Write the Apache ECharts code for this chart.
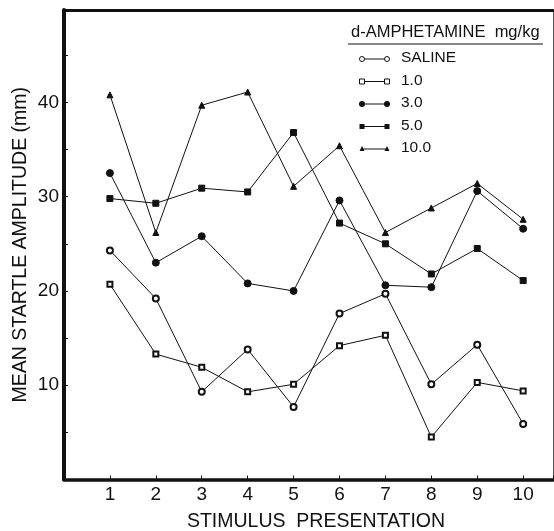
<!DOCTYPE html>
<html>
<head>
<meta charset="utf-8">
<script src="https://cdn.jsdelivr.net/npm/echarts@6/dist/echarts.min.js"></script>
<style>
html,body{margin:0;padding:0;background:#fff;}
#chart{width:554px;height:531px;}
</style>
</head>
<body>
<div id="chart"></div>
<script>
// Data
const stimulus = [1, 2, 3, 4, 5, 6, 7, 8, 9, 10];
const saline = [24.3, 19.2, 9.3, 13.8, 7.7, 17.6, 19.7, 10.1, 14.3, 5.9];
const dose1  = [20.7, 13.3, 11.9, 9.3, 10.1, 14.2, 15.3, 4.5, 10.3, 9.4];
const dose3  = [32.5, 23.0, 25.8, 20.8, 20.0, 29.6, 20.6, 20.4, 30.6, 26.6];
const dose5  = [29.8, 29.3, 30.9, 30.5, 36.8, 27.2, 25.0, 21.8, 24.5, 21.1];
const dose10 = [40.8, 26.2, 39.7, 41.1, 31.1, 35.4, 26.2, 28.8, 31.4, 27.6];
const yTickLabels = [10, 20, 30, 40];
const legendTitle = 'd-AMPHETAMINE  mg/kg';
const seriesNames = ['SALINE', '1.0', '3.0', '5.0', '10.0'];

const FONT = '"Liberation Sans", Arial, sans-serif';
const INK = '#111';

const styles = [
  {symbol: 'emptyCircle', size: 6, lsize: 5},
  {symbol: 'emptyRect', size: 5, lsize: 5},
  {symbol: 'circle', size: 7, lsize: 6},
  {symbol: 'rect', size: 6, lsize: 5},
  {symbol: 'triangle', size: 6, lsize: 5}
];
const allData = [saline, dose1, dose3, dose5, dose10];

const series = allData.map((vals, i) => ({
  name: seriesNames[i],
  type: 'line',
  data: stimulus.map((s, k) => [s, vals[k]]),
  symbol: styles[i].symbol,
  symbolSize: styles[i].size,
  showAllSymbol: true,
  lineStyle: {color: INK, width: 1},
  itemStyle: {color: INK, borderColor: INK, borderWidth: 1},
  emphasis: {disabled: true},
  animation: false,
  z: 3
}));

// legend drawn as graphic
const legendEls = [];
legendEls.push({type: 'text', left: 351, top: 24, style: {text: legendTitle, font: '16.5px ' + FONT, fill: INK}});
legendEls.push({type: 'line', shape: {x1: 348, y1: 44, x2: 543, y2: 44}, style: {stroke: INK, lineWidth: 1}});
const legendY = [59, 81.5, 104, 126.5, 149];
seriesNames.forEach((n, i) => {
  const y = legendY[i];
  legendEls.push({type: 'line', shape: {x1: 362, y1: y, x2: 387, y2: y}, style: {stroke: INK, lineWidth: 1}});
  [362, 387].forEach(x => {
    const st = styles[i];
    const r = st.lsize / 2;
    if (st.symbol === 'emptyCircle') legendEls.push({type: 'circle', shape: {cx: x, cy: y, r: r}, style: {fill: '#fff', stroke: INK, lineWidth: 1}});
    else if (st.symbol === 'circle') legendEls.push({type: 'circle', shape: {cx: x, cy: y, r: r}, style: {fill: INK}});
    else if (st.symbol === 'emptyRect') legendEls.push({type: 'rect', shape: {x: x - r, y: y - r, width: 2 * r, height: 2 * r}, style: {fill: '#fff', stroke: INK, lineWidth: 1}});
    else if (st.symbol === 'rect') legendEls.push({type: 'rect', shape: {x: x - r, y: y - r, width: 2 * r, height: 2 * r}, style: {fill: INK}});
    else legendEls.push({type: 'polygon', shape: {points: [[x, y - r - 0.5], [x + r, y + r - 0.5], [x - r, y + r - 0.5]]}, style: {fill: INK}});
  });
  legendEls.push({type: 'text', left: 401, top: y - 9, style: {text: n, font: '15.5px ' + FONT, fill: INK}});
});

const chart = echarts.init(document.getElementById('chart'), null, {renderer: 'canvas'});
chart.setOption({
  backgroundColor: '#fff',
  animation: false,
  grid: {left: 64, right: 1, top: 10, bottom: 51.5, containLabel: false, outerBoundsMode: 'none'},
  xAxis: [{
    type: 'value', min: 0, max: 10.65, interval: 1,
    name: 'STIMULUS  PRESENTATION', nameLocation: 'middle', nameGap: 32,
    nameTextStyle: {fontFamily: FONT, fontSize: 19.5, color: INK, padding: [0, 0, 0, 15]},
    axisLine: {show: true, onZero: false, lineStyle: {color: INK, width: 3.5}},
    axisTick: {show: true, inside: true, length: 4, lineStyle: {color: INK, width: 1}},
    splitLine: {show: false},
    axisLabel: {margin: 6, fontFamily: FONT, fontSize: 19, color: INK,
      formatter: v => (v >= 1 && v <= 10 && Math.abs(v - Math.round(v)) < 1e-6) ? String(Math.round(v)) : ''}
  }, {
    type: 'value', min: 0, max: 10.65, position: 'top',
    axisLine: {show: true, onZero: false, lineStyle: {color: INK, width: 3}},
    axisTick: {show: false}, axisLabel: {show: false}, splitLine: {show: false}
  }],
  yAxis: [{
    type: 'value', min: 0, max: 49.8, interval: 5,
    name: 'MEAN STARTLE AMPLITUDE (mm)', nameLocation: 'middle', nameGap: 33, nameMoveOverlap: false,
    nameTextStyle: {fontFamily: FONT, fontSize: 19.5, color: INK},
    axisLine: {show: true, onZero: false, lineStyle: {color: INK, width: 4}},
    axisTick: {show: true, inside: true, length: 4, lineStyle: {color: INK, width: 1}},
    splitLine: {show: false},
    axisLabel: {margin: 5, fontFamily: FONT, fontSize: 19, color: INK,
      formatter: v => yTickLabels.indexOf(Math.round(v)) >= 0 && Math.abs(v - Math.round(v)) < 1e-6 ? String(Math.round(v)) : ''}
  }, {
    type: 'value', min: 0, max: 49.8, position: 'right',
    axisLine: {show: true, onZero: false, lineStyle: {color: '#555', width: 1}},
    axisTick: {show: false}, axisLabel: {show: false}, splitLine: {show: false}
  }],
  graphic: legendEls,
  series: series
});
</script>
</body>
</html>
